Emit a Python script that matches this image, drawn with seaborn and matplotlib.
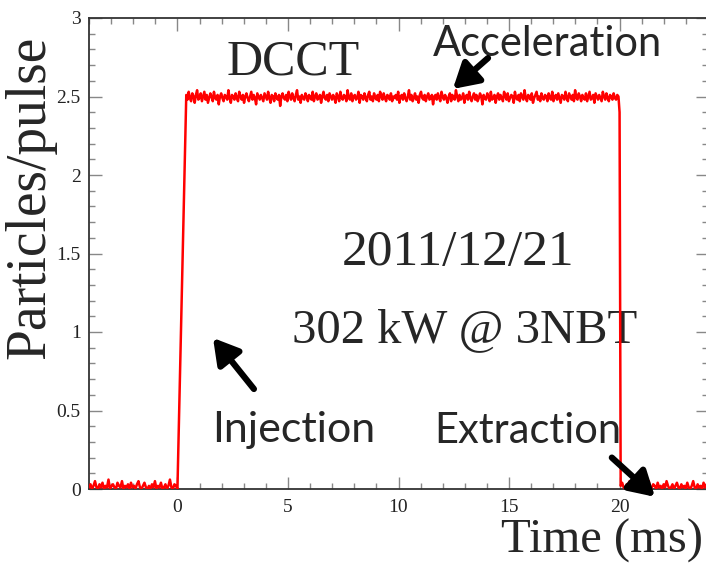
import matplotlib

matplotlib.use("Agg")
import matplotlib.pyplot as plt
import numpy as np
import pandas as pd
import seaborn as sns
from matplotlib.ticker import MultipleLocator

# DCCT beam current trace (particles/pulse, units of 1e13)
TOP_LEVEL = 2.49
# deviations from the flat top, in units of 0.01
top_dev = [
    2, -1, 4, 0, -2, 3, 1, -3, 2, 5, -1, 0, 3, -2, 1, 4, -1, 2, -3, 0, 3, 1, -2, 4, 0, -1, 2, -4, 1, 3,
    0, -2, 2, 1, -1, 5, 0, -3, 2, 1, -1, 3, 0, -2, 4, 1, -1, 2, -3, 1, 3, 0, -2, 1, 4, -1, 2, 0, -4, 3,
    1, -1, 2, 0, -2, 3, 1, -1, 4, 0, -3, 2, 1, -2, 3, 0, -1, 2, -5, 1, 3, 0, -1, 2, -2, 4, 1, -1, 3, 0,
    -2, 2, 5, -1, 1, -3, 2, 0, -1, 3, 1, -2, 2, 0, -1, 4, -2, 1, 3, -1, 0, 2, -3, 1, 4, 0, -1, 2, -2, 3,
    1, -1, 2, 0, -3, 3, 1, -2, 4, 0, -1, 2, 1, -2, 5, 0, -1, 3, -2, 1, 2, -1, 0, 4, -3, 2, 1, -1, 3, 0,
    -2, 2, 4, -1, 1, -2, 3, 0, -1, 2, -2, 4, 1, -1, 3, 0, -2, 2, 1, -1, 3, -2, 1, 0, 2, -1, 4, -3, 1, 2,
    -1, 3, 0, -2, 1, 5, -1, 2, -2, 0, 3, -1, 1, -3, 2, 4, 0, -1, 2, -2, 1, 3, -1, 0, 2, -4, 1, 2, -1, 3,
    0, -2, 4, 1, -1, 2, 0, -3, 1, 3, -2, 2, 0, -1, 5, 1, -2, 2, -1, 0, 3, -3, 1, 2, -1, 4, 0, -2, 1, 3,
    -1, 2, -2, 0, 3, 1, -4, 2, 0, -1, 3, 1, -2, 4, -1, 0, 2, -3, 1, 3, -1, 2, 0, -2, 4, 1, -1, 3, -2, 0,
    2, 1, -3, 4, 0, -1, 2, -2, 3, 1, -1, 5, 0, -2, 2, 1, -1, 3, -3, 0, 2, 4, -1, 1, -2, 3, 0, -1, 2, 1,
    -2, 3, 0, -1, 4, -2, 1, 2, -1, 3, 0, -3, 2, 1, -1, 4, 0, -2, 3, 1, -1, 2, -2, 5, 0, -1, 3, 1, -2, 2,
    0, -1, 3, -2, 1, 4, -1, 0, 2, -3, 3, 1, -1, 2, 0, -2, 4, 1, -1, 3, 0, -2, 2, 1, -1, 3, 0, -1, 2, 1,
]
# baseline before injection and after extraction, in units of 0.01
pre_vals = [1, 3, 0, 2, 5, 1, 0, 3, 1, 4, 0, 2, 1, 6, 0, 2, 3, 1, 0, 4,
            2, 1, 5, 0, 2, 1, 3, 0, 4, 1, 2, 0, 3, 5, 1, 0, 2, 4, 1, 0,
            2, 0, 3, 1, 5, 0, 2, 1, 4, 0, 1, 3, 0, 2, 6, 1, 0, 3, 2, 0]
post_vals = [2, 4, 1, 0, 3, 1, 5, 0, 2, 1, 3, 0, 1, 4, 2, 0, 3, 1, 2, 5,
             0, 1, 3, 2, 0, 4, 1, 2, 0, 3, 1, 5, 2, 0, 1, 3, 0, 2, 4, 1,
             0, 3, 1, 2, 0, 4, 1, 0, 2, 5, 1, 0, 3, 1, 2, 0, 4, 1, 3, 0]
T_START, T_INJ, T_FLAT, T_EXT_END, T_FALL, T_END = -4.0, 0.0, 0.4, 19.95, 20.05, 24.0
FALL_KNEE = 2.40

t = np.concatenate([
    np.linspace(T_START, T_INJ, len(pre_vals)),
    np.linspace(T_FLAT, T_EXT_END, len(top_dev)),
    [20.0],
    np.linspace(T_FALL, T_END, len(post_vals)),
])
y = np.concatenate([
    np.array(pre_vals) / 100,
    TOP_LEVEL + np.array(top_dev) / 100,
    [FALL_KNEE],
    np.array(post_vals) / 100,
])
df = pd.DataFrame({"time": t, "particles": y})

sns.set_theme(style="ticks")
plt.rcParams.update({
    "font.family": ["Liberation Serif", "DejaVu Serif"],
    "xtick.direction": "in", "ytick.direction": "in",
})

fig = plt.figure(figsize=(7.06, 5.63), dpi=100)
ax = fig.add_axes([89 / 706, 74 / 563, 619 / 706, 471 / 563])
sns.lineplot(data=df, x="time", y="particles", sort=False, estimator=None,
             color="#ff0000", linewidth=1.8, ax=ax, zorder=3)

ax.set_xlim(-4, 24)
ax.set_ylim(0, 3)
ax.set_xticks([0, 5, 10, 15, 20])
ax.set_yticks([0, 0.5, 1, 1.5, 2, 2.5, 3])
ax.set_yticklabels(["0", "0.5", "1", "1.5", "2", "2.5", "3"])
ax.xaxis.set_minor_locator(MultipleLocator(1))
ax.yaxis.set_minor_locator(MultipleLocator(0.1))
ax.tick_params(which="both", top=True, right=True, color="#888888", labelsize=14, width=1)
ax.tick_params(which="major", length=9)
ax.tick_params(which="minor", length=4.5)
ax.tick_params(axis="x", pad=7, colors="#888888", labelcolor="#222222")
ax.tick_params(axis="y", pad=6, colors="#888888", labelcolor="#222222")
ax.set_xlabel("")
ax.set_ylabel("")
for side in ax.spines.values():
    side.set_color("#333333")
    side.set_linewidth(1.3)

serif = ["Liberation Serif", "DejaVu Serif"]
sans = ["Lato", "DejaVu Sans"]
ax.text(5.23, 2.643, "DCCT", fontsize=36, family=serif, ha="center", va="baseline", zorder=1)
ax.text(16.72, 2.758, "Acceleration", fontsize=30, family=sans, ha="center", va="baseline", zorder=1)
ax.text(12.69, 1.427, "2011/12/21", fontsize=37, family=serif, ha="center", va="baseline", zorder=1)
ax.text(13.01, 0.936, "302 kW @ 3NBT", fontsize=35, family=serif, ha="center", va="baseline", zorder=1)
ax.text(5.27, 0.299, "Injection", fontsize=31, family=sans, ha="center", va="baseline", zorder=1)
ax.text(15.86, 0.293, "Extraction", fontsize=30, family=sans, ha="center", va="baseline", zorder=1)

arrow = dict(arrowstyle="-|>,head_length=0.6,head_width=0.35", color="black", lw=4.5,
             shrinkA=0, shrinkB=0, mutation_scale=25)
ax.annotate("", xy=(12.46, 2.548), xytext=(14.05, 2.745), arrowprops=arrow, zorder=4)
ax.annotate("", xy=(1.61, 0.962), xytext=(3.46, 0.637), arrowprops=arrow, zorder=4)
ax.annotate("", xy=(21.6, -0.05), xytext=(19.65, 0.2), arrowprops=arrow,
            annotation_clip=False, zorder=4)

fig.text(703 / 706, 1 - 553 / 563, "Time (ms)", fontsize=35, family=serif, ha="right", va="baseline")
fig.text(30 / 706, 1 - 197 / 563, "Particles/pulse", fontsize=40, family=serif,
         rotation=90, ha="center", va="center")

fig.savefig("out.png", dpi=100)
